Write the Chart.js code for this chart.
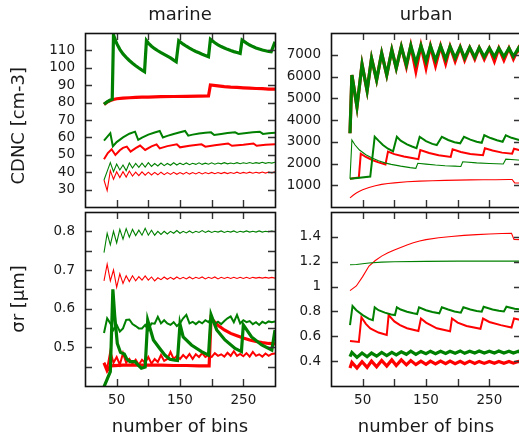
<!DOCTYPE html>
<html>
<head>
<meta charset="utf-8">
<script src="https://cdn.jsdelivr.net/npm/chart.js@4.4.1/dist/chart.umd.min.js"></script>
<style>
  html, body { margin: 0; padding: 0; background: #fff; width: 519px; height: 436px; overflow: hidden; }
  canvas { position: absolute; left: 0; top: 0; }
</style>
</head>
<body>
<canvas id="marineCdnc" width="540" height="450"></canvas>
<canvas id="urbanCdnc" width="540" height="450"></canvas>
<canvas id="marineSigma" width="540" height="450"></canvas>
<canvas id="urbanSigma" width="540" height="450"></canvas>
<script>
// ---- number of bins used for the evenly sampled runs ----
const bins5 = [30, 35, 40, 45, 50, 55, 60, 65, 70, 75, 80, 85, 90, 95, 100, 105, 110, 115, 120, 125,
  130, 135, 140, 145, 150, 155, 160, 165, 170, 175, 180, 185, 190, 195, 200, 205, 210, 215, 220, 225,
  230, 235, 240, 245, 250, 255, 260, 265, 270, 275, 280, 285, 290, 295, 300];
const urbanZigBins = [30, 33, 41, 49, 57, 64, 72, 80, 88, 96, 103, 111, 119, 126, 134, 142, 150, 157, 165,
  173, 181, 188, 196, 204, 211, 219, 227, 234, 242, 250, 258, 265, 273, 281, 288, 296, 300];

// ---- marine, CDNC [cm-3] ----
const marineCdncThickGreenBins = [30, 35, 40, 43, 45, 50, 55, 60, 65, 70, 75, 80, 85, 90, 94, 97, 100, 105, 110, 115,
  120, 125, 130, 135, 140, 144, 148, 155, 160, 165, 170, 175, 180, 185, 190, 195, 198, 205, 210, 215,
  220, 225, 230, 235, 240, 245, 248, 255, 260, 265, 270, 275, 280, 285, 290, 294, 300];
const marineCdncThickGreen = [79, 80.5, 81.5, 82, 118.9, 114.0, 110.6, 108.0, 106.0, 104.2, 102.6, 101.2, 99.9, 98.7, 97.8,
  115.6, 114.2, 112.4, 111.0, 109.8, 108.7, 107.7, 106.7, 105.7, 104.4, 103.5, 115.6, 113.6, 112.4, 111.3,
  110.3, 109.4, 108.6, 107.8, 107.1, 106.4, 116.4, 114.4, 113.2, 112.2, 111.4, 110.6, 109.9, 109.3, 108.8,
  108.3, 116.0, 114.2, 113.1, 112.2, 111.4, 110.8, 110.2, 109.8, 109.4, 109.2, 115.0];
const marineCdncThickRedBins = [30, 35, 40, 45, 50, 60, 70, 80, 90, 100, 120, 140, 160, 180, 195, 198, 210, 220, 230, 240,
  250, 260, 270, 280, 290, 300];
const marineCdncThickRed = [79, 80.3, 81.2, 81.8, 82.2, 82.6, 82.8, 83.0, 83.1, 83.2, 83.4, 83.5, 83.6, 83.7, 83.8,
  90.1, 89.6, 89.2, 88.9, 88.7, 88.5, 88.3, 88.1, 88.0, 87.8, 87.7];
const marineCdncMedGreenBins = [30, 40, 44, 50, 60, 70, 79, 84, 90, 100, 110, 118, 123, 130, 140, 150, 158, 163, 170, 180,
  190, 199, 204, 215, 225, 237, 242, 255, 265, 276, 281, 290, 300];
const marineCdncMedGreen = [58.1, 62.4, 54.9, 57.3, 60.0, 62.1, 63.3, 58.6, 59.9, 61.6, 62.8, 63.7, 60.0, 60.9, 62.0, 63.0,
  63.7, 61.0, 61.6, 62.3, 62.7, 62.9, 61.4, 62.0, 62.5, 62.9, 62.0, 62.5, 62.9, 63.3, 62.0, 62.4, 62.7];
const marineCdncMedRedBins = [30, 36, 42, 48, 55, 60, 66, 72, 80, 87, 95, 105, 113, 118, 130, 145, 150, 165, 184, 190,
  205, 226, 232, 250, 266, 271, 285, 300];
const marineCdncMedRed = [47.4, 51.0, 53.2, 49.9, 52.6, 54.0, 54.7, 51.8, 53.8, 55.3, 52.8, 54.8, 56.0, 53.7, 55.0, 56.0,
  54.3, 55.2, 56.0, 54.7, 55.5, 56.5, 55.2, 55.8, 56.5, 55.2, 55.8, 56.0];
const marineCdncThinGreen = [35.5, 40.5, 45.5, 40.3, 44.7, 41.3, 44.1, 40.9, 45.3, 42.4,
  45.0, 42.8, 45.2, 43.0, 45.5, 43.3, 45.0, 43.6, 45.3, 43.8,
  45.0, 44.0, 45.4, 44.1, 45.2, 44.3, 45.3, 44.3, 45.1, 44.5,
  45.4, 44.5, 45.2, 44.6, 45.4, 44.6, 45.3, 44.8, 45.5, 44.8,
  45.3, 44.9, 45.5, 44.9, 45.4, 45.0, 45.6, 45.0, 45.5, 45.1,
  45.7, 45.1, 45.6, 45.2, 45.7];
const marineCdncThinRed = [35.5, 29.4, 40.9, 35.9, 40.3, 36.9, 40.3, 37.2, 40.7, 37.8,
  40.0, 38.0, 40.2, 38.3, 40.0, 38.4, 39.9, 38.5, 40.0, 38.6,
  39.8, 38.7, 39.9, 38.8, 39.8, 38.9, 39.9, 38.9, 39.8, 39.0,
  39.9, 39.0, 39.8, 39.1, 39.9, 39.1, 39.8, 39.2, 39.9, 39.2,
  39.8, 39.3, 40.0, 39.3, 39.9, 39.4, 40.0, 39.4, 40.0, 39.5,
  40.1, 39.5, 40.1, 39.6, 40.2];

// ---- marine, sigma_r [um] ----
const marineSigmaThickGreenBins = [30, 40, 44, 47, 51, 56, 62, 66, 71, 79, 84, 89, 95, 99, 108, 118, 126, 134, 142, 146,
  150, 155, 168, 184, 195, 199, 208, 221, 237, 247, 250, 263, 279, 295, 300];
const marineSigmaThickGreen = [0.398, 0.437, 0.65, 0.58, 0.51, 0.487, 0.483, 0.47, 0.463, 0.463, 0.454, 0.446, 0.449,
  0.57, 0.519, 0.497, 0.48, 0.469, 0.467, 0.466, 0.56, 0.527, 0.506, 0.489, 0.48, 0.584, 0.545, 0.519, 0.497,
  0.489, 0.558, 0.527, 0.506, 0.493, 0.545];
const marineSigmaThickRedBins = [30, 35, 40, 60, 80, 100, 120, 140, 160, 180, 196, 199, 210, 220, 230, 240, 250, 260, 270,
  280, 290, 300];
const marineSigmaThickRed = [0.46, 0.44, 0.452, 0.454, 0.454, 0.454, 0.454, 0.453, 0.453, 0.452, 0.452, 0.575, 0.557,
  0.545, 0.536, 0.53, 0.524, 0.519, 0.515, 0.512, 0.51, 0.509];
const marineSigmaMedGreen = [0.537, 0.575, 0.562, 0.545, 0.558, 0.541, 0.549, 0.571, 0.572, 0.56,
  0.555, 0.549, 0.549, 0.558, 0.545, 0.562, 0.561, 0.579, 0.562, 0.57,
  0.562, 0.558, 0.565, 0.555, 0.562, 0.575, 0.584, 0.562, 0.566, 0.56,
  0.567, 0.562, 0.57, 0.565, 0.578, 0.56, 0.566, 0.56, 0.568, 0.575,
  0.58, 0.565, 0.584, 0.562, 0.57, 0.565, 0.568, 0.56, 0.565, 0.558,
  0.566, 0.562, 0.567, 0.565, 0.567];
const marineSigmaMedRed = [0.46, 0.445, 0.49, 0.46, 0.475, 0.455, 0.485, 0.46, 0.47, 0.458,
  0.468, 0.455, 0.468, 0.46, 0.475, 0.458, 0.47, 0.462, 0.48, 0.465,
  0.47, 0.488, 0.47, 0.478, 0.47, 0.48, 0.472, 0.483, 0.47, 0.482,
  0.475, 0.485, 0.475, 0.48, 0.475, 0.485, 0.478, 0.482, 0.476, 0.486,
  0.478, 0.49, 0.478, 0.483, 0.477, 0.485, 0.476, 0.488, 0.478, 0.482,
  0.476, 0.484, 0.478, 0.483, 0.484];
const marineSigmaThinGreen = [0.745, 0.795, 0.765, 0.800, 0.770, 0.805, 0.780, 0.807, 0.785, 0.805,
  0.789, 0.803, 0.790, 0.808, 0.790, 0.803, 0.790, 0.800, 0.792, 0.800,
  0.793, 0.800, 0.795, 0.802, 0.795, 0.800, 0.796, 0.801, 0.796, 0.800,
  0.797, 0.802, 0.797, 0.801, 0.797, 0.800, 0.798, 0.801, 0.797, 0.800,
  0.798, 0.801, 0.797, 0.800, 0.798, 0.801, 0.798, 0.800, 0.798, 0.801,
  0.798, 0.800, 0.799, 0.801, 0.799];
const marineSigmaThinRed = [0.672, 0.715, 0.672, 0.700, 0.655, 0.690, 0.665, 0.685, 0.670, 0.685,
  0.672, 0.683, 0.674, 0.685, 0.674, 0.682, 0.672, 0.680, 0.675, 0.682,
  0.676, 0.681, 0.676, 0.682, 0.677, 0.681, 0.677, 0.682, 0.677, 0.681,
  0.678, 0.682, 0.677, 0.681, 0.678, 0.682, 0.677, 0.681, 0.678, 0.681,
  0.678, 0.681, 0.678, 0.681, 0.678, 0.681, 0.678, 0.681, 0.679, 0.681,
  0.679, 0.681, 0.679, 0.681, 0.679];

// ---- urban, CDNC [cm-3] ----
const urbanCdncThickGreen = [3390, 6070, 4610, 6560, 5350, 6840, 5840, 7070, 6070, 7220, 6380, 7370, 6530, 7420, 6610,
  7420, 6700, 7400, 6750, 7400, 6800, 7380, 6850, 7350, 6850, 7330, 6880, 7320, 6900, 7300, 6900, 7300,
  6900, 7300, 6920, 7300, 7100];
const urbanCdncThickRed = [3390, 6070, 4610, 6560, 5350, 6840, 5840, 7070, 6070, 7220, 6380, 7370, 6450, 7420, 6250,
  7420, 6400, 7400, 6500, 7400, 6600, 7380, 6700, 7350, 6750, 7330, 6800, 7320, 6800, 7300, 6700, 7300,
  6750, 7300, 6800, 7300, 7000];
const urbanCdncMedGreenBins = [30, 45, 62, 69, 75, 82, 90, 98, 104, 110, 120, 128, 135, 140, 150, 160, 167, 175, 185, 195,
  204, 210, 220, 230, 238, 242, 252, 262, 271, 276, 285, 300];
const urbanCdncMedGreen = [1300, 1350, 1400, 3230, 3050, 2850, 2680, 2560, 3230, 3050, 2880, 2780, 2700, 3230, 3030,
  2900, 2850, 3230, 3080, 2980, 2930, 3230, 3100, 3000, 2950, 3300, 3170, 3070, 3000, 3300, 3180, 3060];
const urbanCdncMedRedBins = [30, 44, 47, 55, 65, 75, 86, 90, 100, 115, 128, 138, 141, 155, 170, 189, 192, 205, 220, 240,
  243, 255, 270, 286, 289, 300];
const urbanCdncMedRed = [1300, 1360, 2450, 2300, 2160, 2050, 1960, 2550, 2430, 2320, 2250, 2200, 2620, 2480, 2380,
  2300, 2650, 2530, 2440, 2380, 2700, 2600, 2500, 2450, 2680, 2600];
const urbanCdncThinGreenBins = [30, 33, 38, 45, 55, 65, 75, 85, 95, 110, 125, 134, 137, 150, 165, 180, 195, 205, 208, 230,
  250, 272, 276, 290, 300];
const urbanCdncThinGreen = [1300, 3080, 2850, 2620, 2400, 2250, 2130, 2030, 1960, 1880, 1810, 1780, 2010, 1970, 1930,
  1900, 1880, 1860, 2080, 2030, 2000, 1980, 2200, 2170, 2150];
const urbanCdncThinRedBins = [30, 35, 40, 45, 50, 60, 70, 80, 90, 100, 120, 140, 160, 180, 200, 220, 240, 260, 280, 286,
  290, 300];
const urbanCdncThinRed = [420, 540, 640, 720, 790, 900, 980, 1040, 1080, 1110, 1160, 1190, 1210, 1225, 1235, 1245,
  1250, 1255, 1262, 1265, 1110, 1100];

// ---- urban, sigma_r [um] ----
const urbanSigmaThickGreen = [0.436, 0.47, 0.43, 0.465, 0.435, 0.465, 0.44, 0.47, 0.445, 0.47, 0.45, 0.475, 0.455, 0.48,
  0.455, 0.478, 0.46, 0.48, 0.46, 0.48, 0.462, 0.48, 0.463, 0.482, 0.463, 0.48, 0.465, 0.482, 0.465, 0.48,
  0.465, 0.482, 0.466, 0.48, 0.466, 0.48, 0.47];
const urbanSigmaThickRed = [0.345, 0.39, 0.345, 0.395, 0.35, 0.40, 0.355, 0.405, 0.36, 0.41, 0.365, 0.41, 0.37, 0.405,
  0.372, 0.40, 0.375, 0.40, 0.378, 0.40, 0.38, 0.40, 0.38, 0.398, 0.38, 0.40, 0.382, 0.398, 0.382, 0.398,
  0.383, 0.397, 0.383, 0.397, 0.384, 0.397, 0.39];
const urbanSigmaMedGreenBins = [30, 34, 40, 50, 60, 66, 69, 75, 85, 95, 101, 104, 110, 120, 130, 136, 139, 150, 160, 171,
  175, 185, 195, 205, 209, 220, 230, 238, 241, 255, 265, 273, 277, 290, 300];
const urbanSigmaMedGreen = [0.69, 0.844, 0.81, 0.77, 0.74, 0.73, 0.833, 0.81, 0.79, 0.775, 0.771, 0.833, 0.815, 0.797,
  0.785, 0.779, 0.833, 0.81, 0.795, 0.785, 0.833, 0.815, 0.80, 0.79, 0.833, 0.815, 0.803, 0.798, 0.838, 0.815,
  0.805, 0.80, 0.838, 0.822, 0.815];
const urbanSigmaMedRedBins = [30, 44, 48, 55, 62, 75, 88, 91, 100, 109, 120, 138, 142, 150, 167, 188, 191, 200, 214, 236,
  240, 250, 268, 285, 289, 300];
const urbanSigmaMedRed = [0.562, 0.555, 0.753, 0.70, 0.664, 0.63, 0.61, 0.771, 0.72, 0.69, 0.665, 0.643, 0.743, 0.71,
  0.664, 0.64, 0.743, 0.71, 0.683, 0.66, 0.743, 0.715, 0.69, 0.67, 0.743, 0.73];
const urbanSigmaThinGreenBins = [30, 40, 60, 80, 100, 150, 200, 250, 300];
const urbanSigmaThinGreen = [1.175, 1.178, 1.19, 1.197, 1.2, 1.203, 1.205, 1.205, 1.205];
const urbanSigmaThinRedBins = [30, 40, 50, 60, 70, 80, 90, 100, 110, 120, 130, 140, 150, 170, 190, 210, 230, 250, 270,
  285, 289, 300];
const urbanSigmaThinRed = [0.967, 1.005, 1.08, 1.165, 1.21, 1.245, 1.272, 1.295, 1.315, 1.335, 1.352, 1.366, 1.378,
  1.393, 1.403, 1.412, 1.418, 1.423, 1.427, 1.428, 1.38, 1.378];

// ---- labels ----
const xLabelBins = [50, 150, 250];
const panelTitles = ['marine', 'urban'];
// the trailing blanks nudge the rotated CDNC title a little towards the bottom of its panel
const yTitles = ['CDNC [cm-3]  ', 'σr [μm]'];
const xTitle = 'number of bins';

// ---- styling ----
const GREEN = '#008000';
const RED = '#ff0000';
const THICK = 3.2, MEDIUM = 2, THIN = 1.1;
const INK = '#1a1a1a';
const FAMILY = "'DejaVu Sans', 'Verdana', sans-serif";

Chart.defaults.font.family = FAMILY;
Chart.defaults.color = INK;

function line(xs, ys, color, width) {
  return {
    data: xs.map((x, i) => ({ x: x, y: ys[i] })),
    borderColor: color,
    borderWidth: width,
    pointRadius: 0,
    fill: false,
    tension: 0
  };
}

// inward tick marks on all four sides plus the box around the plot
const frameTicks = {
  id: 'frameTicks',
  afterDatasetsDraw(chart) {
    const { ctx, chartArea: a } = chart;
    const xs = chart.scales.x, ys = chart.scales.y;
    const L = 7;
    ctx.save();
    ctx.strokeStyle = '#333';
    ctx.lineWidth = 1.4;
    ctx.beginPath();
    xs.ticks.forEach(t => {
      const p = Math.round(xs.getPixelForValue(t.value)) + 0.5;
      if (p <= a.left + 2 || p >= a.right - 2) return;
      ctx.moveTo(p, a.bottom); ctx.lineTo(p, a.bottom - L);
      ctx.moveTo(p, a.top); ctx.lineTo(p, a.top + L);
    });
    ys.ticks.forEach(t => {
      const p = Math.round(ys.getPixelForValue(t.value)) + 0.5;
      if (p <= a.top + 2 || p >= a.bottom - 2) return;
      ctx.moveTo(a.left, p); ctx.lineTo(a.left + L, p);
      ctx.moveTo(a.right, p); ctx.lineTo(a.right - L, p);
    });
    ctx.stroke();
    ctx.lineWidth = 1.6;
    ctx.strokeStyle = '#111';
    ctx.strokeRect(Math.round(a.left) + 0.5, Math.round(a.top) + 0.5, Math.round(a.width), Math.round(a.height));
    ctx.restore();
  }
};

function panel(id, cfg) {
  const titleFont = { size: 18, family: FAMILY, weight: 'normal', lineHeight: 1.2 };
  const tickFont = { size: 13.5, family: FAMILY, lineHeight: 1.2 };
  return new Chart(document.getElementById(id), {
    type: 'line',
    data: { datasets: cfg.datasets },
    options: {
      responsive: false,
      animation: false,
      devicePixelRatio: 1,
      layout: { padding: cfg.padding },
      plugins: {
        legend: { display: false },
        tooltip: { enabled: false },
        title: cfg.title ? {
          display: true, text: cfg.title, fullSize: false, color: INK,
          font: titleFont, padding: { top: 5, bottom: 6.4 }
        } : { display: false }
      },
      scales: {
        x: {
          type: 'linear', min: 0, max: 300,
          grid: { display: false, drawTicks: false, tickLength: 0 },
          border: { display: false },
          ticks: {
            display: cfg.showX, stepSize: 50, autoSkip: false, maxRotation: 0, padding: 6,
            font: tickFont, color: INK,
            callback: v => (xLabelBins.includes(v) ? String(v) : '')
          },
          title: cfg.showX ? {
            display: true, text: xTitle, color: INK, font: titleFont, padding: { top: 0, bottom: 11.7 }
          } : { display: false },
          afterFit: s => { s.height = cfg.showX ? 64 : 0; }
        },
        y: {
          type: 'linear', min: cfg.yMin, max: cfg.yMax,
          grid: { display: false, drawTicks: false, tickLength: 0 },
          border: { display: false },
          ticks: {
            stepSize: cfg.yStep, autoSkip: false, padding: 10,
            font: tickFont, color: INK, callback: cfg.yLabel
          },
          title: cfg.yTitle ? {
            display: true, text: cfg.yTitle, color: INK, font: titleFont, padding: { top: 8.7, bottom: 0 }
          } : { display: false },
          afterFit: s => { s.width = cfg.yWidth; }
        }
      }
    },
    plugins: [frameTicks]
  });
}

// marine CDNC
panel('marineCdnc', {
  title: panelTitles[0], yTitle: yTitles[0], showX: false,
  padding: { left: 0, top: 0, right: 265, bottom: 243 }, yWidth: 85,
  yMin: 20, yMax: 120, yStep: 10,
  yLabel: v => (v >= 30 && v <= 110 ? String(v) : ''),
  datasets: [
    line(marineCdncThickGreenBins, marineCdncThickGreen, GREEN, THICK),
    line(marineCdncMedGreenBins, marineCdncMedGreen, GREEN, MEDIUM),
    line(bins5, marineCdncThinGreen, GREEN, THIN),
    line(marineCdncThickRedBins, marineCdncThickRed, RED, THICK),
    line(marineCdncMedRedBins, marineCdncMedRed, RED, MEDIUM),
    line(bins5, marineCdncThinRed, RED, THIN)
  ]
});

// urban CDNC
panel('urbanCdnc', {
  title: panelTitles[1], yTitle: null, showX: false,
  padding: { left: 0, top: 0, right: 19, bottom: 243 }, yWidth: 331,
  yMin: 0, yMax: 8000, yStep: 1000,
  yLabel: v => (v >= 1000 && v <= 7000 ? String(v) : ''),
  datasets: [
    line(urbanZigBins, urbanCdncThickGreen, GREEN, THICK),
    line(urbanCdncMedGreenBins, urbanCdncMedGreen, GREEN, MEDIUM),
    line(urbanCdncThinGreenBins, urbanCdncThinGreen, GREEN, THIN),
    line(urbanZigBins, urbanCdncThickRed, RED, THICK),
    line(urbanCdncMedRedBins, urbanCdncMedRed, RED, MEDIUM),
    line(urbanCdncThinRedBins, urbanCdncThinRed, RED, THIN)
  ]
});

// marine sigma_r
panel('marineSigma', {
  title: null, yTitle: yTitles[1], showX: true,
  padding: { left: 0, top: 212, right: 265, bottom: 0 }, yWidth: 85,
  yMin: 0.4, yMax: 0.85, yStep: 0.05,
  yLabel: v => {
    const t = Math.round(v * 100);
    return (t % 10 === 0 && t >= 50 && t <= 80) ? (t / 100).toFixed(1) : '';
  },
  datasets: [
    line(marineSigmaThickGreenBins, marineSigmaThickGreen, GREEN, THICK),
    line(bins5, marineSigmaMedGreen, GREEN, MEDIUM),
    line(bins5, marineSigmaThinGreen, GREEN, THIN),
    line(marineSigmaThickRedBins, marineSigmaThickRed, RED, THICK),
    line(bins5, marineSigmaMedRed, RED, MEDIUM),
    line(bins5, marineSigmaThinRed, RED, THIN)
  ]
});

// urban sigma_r
panel('urbanSigma', {
  title: null, yTitle: null, showX: true,
  padding: { left: 0, top: 212, right: 19, bottom: 0 }, yWidth: 331,
  yMin: 0.2, yMax: 1.6, yStep: 0.2,
  yLabel: v => {
    const t = Math.round(v * 10);
    return (t >= 4 && t <= 14) ? String(t / 10) : '';
  },
  datasets: [
    line(urbanZigBins, urbanSigmaThickGreen, GREEN, THICK),
    line(urbanSigmaMedGreenBins, urbanSigmaMedGreen, GREEN, MEDIUM),
    line(urbanSigmaThinGreenBins, urbanSigmaThinGreen, GREEN, THIN),
    line(urbanZigBins, urbanSigmaThickRed, RED, THICK),
    line(urbanSigmaMedRedBins, urbanSigmaMedRed, RED, MEDIUM),
    line(urbanSigmaThinRedBins, urbanSigmaThinRed, RED, THIN)
  ]
});
</script>
</body>
</html>
